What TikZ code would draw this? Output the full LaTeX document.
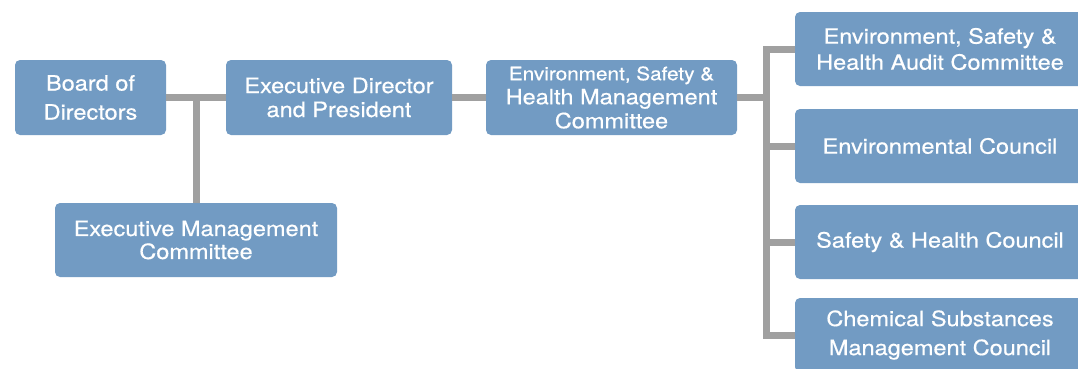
\documentclass[tikz,border=0pt]{standalone}
\usepackage{fontspec}
\setmainfont[FakeStretch=1.12,FakeBold=0.5]{TeX Gyre Heros}
\usepackage{xcolor}
\definecolor{boxblue}{RGB}{114,155,195}
\definecolor{linkgray}{RGB}{160,160,160}

\begin{document}
\begin{tikzpicture}[x=1pt,y=-1pt,
  unit/.style={fill=boxblue, text=white, rounded corners=5pt, align=center, inner sep=0pt, minimum height=75, font=\fontsize{21}{26}\selectfont},
  council/.style={unit, minimum width=290, minimum height=74},
  link/.style={draw=linkgray, line width=7pt}]
\useasboundingbox (0,0) rectangle (1078,368);
\def\cx{940}

%Management line:
\node[unit, minimum width=151, font=\fontsize{21}{29}\selectfont] (board) at (90.5,97.5) {Board of\\Directors};
\node[unit, minimum width=226, font=\fontsize{21}{24}\selectfont] (exec) at (339,97.5) {Executive Director\\and President};
\node[unit, minimum width=251, font=\fontsize{21}{24}\selectfont] (eshm) at (611.5,97.5) {{\fontsize{18.5}{24}\selectfont Environment, Safety \&}\\Health Management\\Committee};
\node[unit, minimum width=282, minimum height=74, font=\fontsize{21}{23}\selectfont] (emc) at (196,240) {Executive Management\\Committee};

%Councils:
\node[council] (audit) at (\cx,49) {Environment, Safety \&\\Health Audit Committee};
\node[council] (env) at (\cx,146) {Environmental Council};
\node[council] (safety) at (\cx,242) {Safety \& Health Council};
\node[council, font=\fontsize{21}{29}\selectfont] (chem) at (\cx,335) {Chemical Substances\\Management Council};

%Links:
\coordinate (spine) at (766,97.5);
\draw[link] (board) -- (exec);
\draw[link] (emc) -- (emc |- board);
\draw[link] (exec) -- (eshm);
\draw[link] (eshm) -- (spine);
\draw[link] (audit.west) -| (spine) |- (chem.west);
\draw[link] (env.west) -- (env.west -| spine);
\draw[link] (safety.west) -- (safety.west -| spine);

\end{tikzpicture}
\end{document}
